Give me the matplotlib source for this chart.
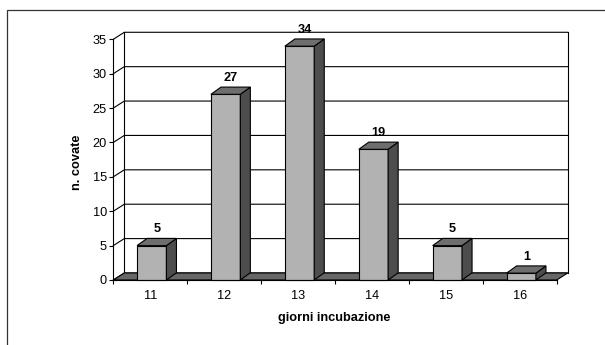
import matplotlib
matplotlib.use("Agg")
import matplotlib.pyplot as plt
from matplotlib.patches import Polygon, Rectangle

# Incubation days and number of clutches
giorni = ["11", "12", "13", "14", "15", "16"]
covate = [5, 27, 34, 19, 5, 1]
y_ticks = [0, 5, 10, 15, 20, 25, 30, 35]

FRONT = "#b2b2b2"
SIDE = "#4d4d4d"
TOP = "#6e6e6e"
FLOOR = "#676767"

# depth offset of the pseudo-3D look, in data units (categories, values)
DX, DY = 0.149, 1.02
BAR_DX, BAR_DY = 0.136, 1.05
BAR_W = 0.397
BAR_SHIFT = 0.02

plt.rcParams["font.family"] = ["Liberation Sans", "DejaVu Sans"]
plt.rcParams["font.size"] = 9.2

fig = plt.figure(figsize=(6.05, 3.45), dpi=100)
fig.patches.append(Rectangle((7 / 605, -0.1), 1.2, (345 - 10) / 345 + 0.1,
                             transform=fig.transFigure, fill=False,
                             edgecolor="#333333", lw=0.9))

ax = fig.add_axes([113.3 / 605, 65 / 345, 443.4 / 605, 240.7 / 345])
n = len(giorni)
ax.set_xlim(-0.5, n - 0.5)
ax.set_ylim(0, 35)

line_kw = dict(color="black", lw=0.8, clip_on=False, zorder=1)

# back wall, side wall and gridlines
x0, x1 = -0.5, n - 0.5
for t in y_ticks:
    ax.plot([x0, x0 + DX, x1 + DX], [t, t + DY, t + DY], **line_kw)
ax.plot([x0 + DX, x0 + DX], [DY, 35 + DY], **line_kw)
ax.plot([x1 + DX, x1 + DX], [DY, 35 + DY], **line_kw)

# floor
ax.add_patch(Polygon([(x0, 0), (x1, 0), (x1 + DX, DY), (x0 + DX, DY)],
                     closed=True, facecolor=FLOOR, edgecolor="black",
                     lw=0.8, clip_on=False, zorder=2))

# bars: front, side and top faces
for i, v in enumerate(covate):
    left = i + BAR_SHIFT - BAR_W / 2
    right = left + BAR_W
    faces = [
        ([(left, 0), (right, 0), (right, v), (left, v)], FRONT),
        ([(right, 0), (right + BAR_DX, BAR_DY), (right + BAR_DX, v + BAR_DY),
          (right, v)], SIDE),
        ([(left, v), (right, v), (right + BAR_DX, v + BAR_DY),
          (left + BAR_DX, v + BAR_DY)], TOP),
    ]
    for pts, c in faces:
        ax.add_patch(Polygon(pts, closed=True, facecolor=c, edgecolor="black",
                             lw=0.8, clip_on=False, zorder=3))
    ax.annotate(str(v), xy=(i + BAR_SHIFT + BAR_DX / 2, v + BAR_DY),
                xytext=(0, 4.3), textcoords="offset points",
                ha="center", va="baseline", fontweight="bold",
                annotation_clip=False)

# axes
for s in ["top", "right"]:
    ax.spines[s].set_visible(False)
for s in ["left", "bottom"]:
    ax.spines[s].set_linewidth(0.8)
    ax.spines[s].set_zorder(4)

ax.set_yticks(y_ticks)
ax.tick_params(axis="y", length=3, width=0.8, pad=1.5, direction="out")
ax.set_xticks(range(n))
ax.set_xticklabels(giorni)
ax.set_xticks([k - 0.5 for k in range(n + 1)], minor=True)
ax.tick_params(axis="x", which="major", length=0, pad=7)
ax.tick_params(axis="x", which="minor", length=3, width=0.8, direction="out")

ax.text((77 - 113.3) / 443.4, (280 - 162) / 240.7, "n. covate",
        transform=ax.transAxes, rotation=90, ha="center", va="center",
        fontweight="bold")
ax.text((334 - 113.3) / 443.4, (280 - 318) / 240.7, "giorni incubazione",
        transform=ax.transAxes, ha="center", va="center", fontweight="bold")

fig.savefig("out.png", dpi=100)
